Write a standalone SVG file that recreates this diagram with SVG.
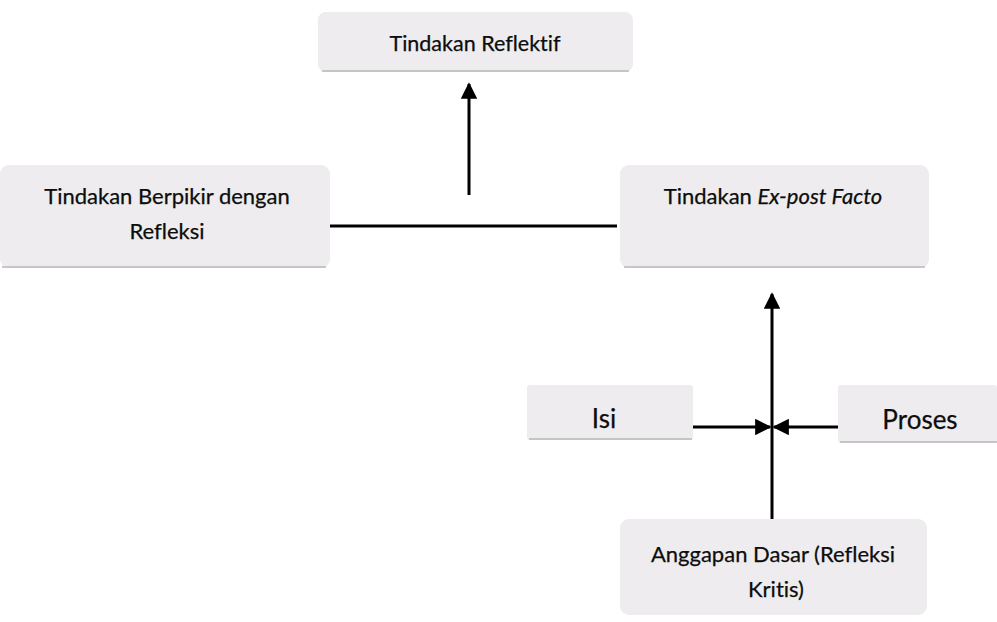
<svg xmlns="http://www.w3.org/2000/svg" width="997" height="622" viewBox="0 0 997 622">
<defs>
<style>
.box{fill:#eeecee;stroke:none}
.edge{fill:none;stroke:#b8b8b8;stroke-width:1.5}
.t{font-family:Lato,"Open Sans","Liberation Sans",sans-serif;fill:#0d0d0d;text-anchor:middle;font-size:22px;font-variant-ligatures:none;stroke:#0d0d0d;stroke-width:0.25}
.c{stroke:#000;stroke-width:3;fill:none}
</style>
<marker id="ah" viewBox="0 0 10 10" refX="9" refY="5" markerWidth="5.5" markerHeight="5.5" orient="auto" markerUnits="strokeWidth">
<path d="M0,0 L10,5 L0,10 z" fill="#000"/>
</marker>
</defs>
<rect width="997" height="622" fill="#fff"/>
<g id="node-reflektif">
<rect class="box" x="318" y="12" width="315" height="60" rx="8"/>
<path class="edge" d="M322,71 L629,71"/>
<text class="t" x="475" y="51" style="font-size:21.5px">Tindakan Reflektif</text>
</g>
<g id="node-berpikir">
<rect class="box" x="0" y="165" width="330" height="103" rx="9"/>
<path class="edge" d="M2,267 L326,267"/>
<text class="t" x="167" y="204">Tindakan Berpikir dengan</text>
<text class="t" x="167" y="239">Refleksi</text>
</g>
<g id="node-expost">
<rect class="box" x="620" y="165" width="309" height="103" rx="9"/>
<path class="edge" d="M624,267 L925,267"/>
<text class="t" x="773" y="204">Tindakan  <tspan font-style="italic">Ex-post Facto</tspan></text>
</g>
<g id="node-isi">
<rect class="box" x="527" y="385" width="166" height="55" rx="3"/>
<path class="edge" d="M529,439 L692,439"/>
<text class="t" x="604" y="428" style="font-size:26px">Isi</text>
</g>
<g id="node-proses">
<rect class="box" x="838" y="385" width="159" height="58" rx="3"/>
<path class="edge" d="M840,442 L997,442"/>
<text class="t" x="920" y="429" style="font-size:26px">Proses</text>
</g>
<g id="node-anggapan">
<rect class="box" x="620" y="519" width="307" height="96" rx="9"/>
<text class="t" x="773" y="562">Anggapan Dasar (Refleksi</text>
<text class="t" x="776" y="597">Kritis)</text>
</g>
<g id="connectors">
<line class="c" x1="469" y1="195" x2="469" y2="84" marker-end="url(#ah)"/>
<line class="c" x1="330" y1="226" x2="617" y2="226"/>
<line class="c" x1="772" y1="519" x2="772" y2="294" marker-end="url(#ah)"/>
<line class="c" x1="693" y1="427" x2="770" y2="427" marker-end="url(#ah)"/>
<line class="c" x1="838" y1="427" x2="774" y2="427" marker-end="url(#ah)"/>
</g>
</svg>
